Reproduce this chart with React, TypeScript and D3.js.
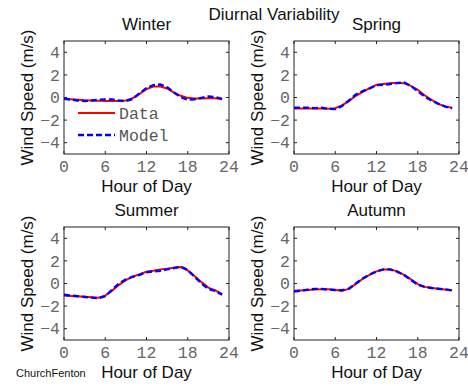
import { useEffect, useRef } from "react"
import * as d3 from "d3"

// hours 0..23
const hours = d3.range(0, 24)

const winterData = [-0.12, -0.16, -0.2, -0.24, -0.27, -0.29, -0.3, -0.3, -0.3, -0.27, -0.06, 0.32, 0.74, 0.97, 0.97, 0.8, 0.44, 0.15, -0.03, -0.09, -0.09, -0.06, -0.06, -0.15]
const winterModel = [-0.12, -0.18, -0.27, -0.32, -0.27, -0.2, -0.18, -0.18, -0.27, -0.32, -0.12, 0.38, 0.83, 1.09, 1.15, 0.91, 0.44, 0.03, -0.2, -0.15, -0.03, 0.09, 0.03, -0.12]

const springData = [-0.97, -0.97, -0.97, -0.97, -0.97, -1.0, -0.94, -0.7, -0.3, 0.15, 0.5, 0.83, 1.12, 1.2, 1.27, 1.3, 1.27, 1.03, 0.68, 0.2, -0.2, -0.56, -0.8, -0.91]
const springModel = [-0.91, -0.91, -0.91, -0.94, -0.91, -1.0, -1.03, -0.74, -0.27, 0.27, 0.56, 0.8, 1.09, 1.12, 1.2, 1.27, 1.33, 1.03, 0.56, 0.09, -0.27, -0.56, -0.8, -0.97]

const summerData = [-1.07, -1.1, -1.13, -1.18, -1.22, -1.25, -1.07, -0.63, -0.12, 0.3, 0.6, 0.83, 1.04, 1.13, 1.25, 1.3, 1.4, 1.46, 1.16, 0.65, 0.12, -0.36, -0.6, -0.95]
const summerModel = [-1.0, -1.07, -1.13, -1.19, -1.25, -1.31, -1.13, -0.54, 0.0, 0.36, 0.6, 0.77, 1.0, 1.07, 1.13, 1.25, 1.37, 1.49, 1.19, 0.6, 0.0, -0.48, -0.65, -1.0]

const autumnData = [-0.65, -0.61, -0.57, -0.53, -0.5, -0.5, -0.57, -0.63, -0.48, -0.03, 0.42, 0.77, 1.07, 1.25, 1.25, 1.07, 0.77, 0.36, -0.06, -0.3, -0.38, -0.48, -0.54, -0.6]
const autumnModel = [-0.71, -0.63, -0.55, -0.48, -0.48, -0.54, -0.57, -0.6, -0.45, 0.0, 0.45, 0.8, 1.07, 1.25, 1.25, 1.05, 0.75, 0.33, -0.1, -0.3, -0.4, -0.46, -0.52, -0.62]

const seasons = ["Winter", "Spring", "Summer", "Autumn"]
const seriesData = [winterData, springData, summerData, autumnData]
const seriesModel = [winterModel, springModel, summerModel, autumnModel]

const xTicks = [0, 6, 12, 18, 24]
const yTicks = [-4, -2, 0, 2, 4]
const legendLabels = ["Data", "Model"]

const W = 468
const H = 386
const sans = "'Liberation Sans', Arial, sans-serif"
const mono = "'Liberation Mono', 'Courier New', monospace"

export default function App() {
  const svgRef = useRef<SVGSVGElement>(null)

  useEffect(() => {
    if (!svgRef.current) return
    const root = d3.select(svgRef.current)
    root.selectAll("*").remove()

    root.append("rect").attr("width", W).attr("height", H).attr("fill", "#fff")

    // panel boxes: left, top
    const panelPos = [
      { x: 64, y: 41 },
      { x: 294, y: 41 },
      { x: 64, y: 227 },
      { x: 294, y: 227 },
    ]
    const pw = 165
    const ph = 113

    panelPos.forEach((p, i) => {
      const g = root.append("g").attr("transform", `translate(${p.x},${p.y})`)
      const x = d3.scaleLinear().domain([0, 24]).range([0, pw])
      const y = d3.scaleLinear().domain([-5, 5]).range([ph, 0])

      // box
      g.append("rect")
        .attr("x", 0).attr("y", 0).attr("width", pw).attr("height", ph)
        .attr("fill", "#fff").attr("stroke", "#222").attr("stroke-width", 1)

      // inward ticks on all four sides
      const tl = 3
      xTicks.forEach(t => {
        g.append("line").attr("x1", x(t)).attr("x2", x(t)).attr("y1", ph).attr("y2", ph - tl).attr("stroke", "#222")
        g.append("line").attr("x1", x(t)).attr("x2", x(t)).attr("y1", 0).attr("y2", tl).attr("stroke", "#222")
        g.append("text")
          .attr("x", x(t)).attr("y", ph + 18)
          .attr("text-anchor", "middle")
          .style("font-family", mono).style("font-size", "16.5px").attr("fill", "#666")
          .text(t)
      })
      yTicks.forEach(t => {
        g.append("line").attr("x1", 0).attr("x2", tl).attr("y1", y(t)).attr("y2", y(t)).attr("stroke", "#222")
        g.append("line").attr("x1", pw).attr("x2", pw - tl).attr("y1", y(t)).attr("y2", y(t)).attr("stroke", "#222")
        g.append("text")
          .attr("x", -4).attr("y", y(t)).attr("dy", "0.35em")
          .attr("text-anchor", "end")
          .style("font-family", mono).style("font-size", "16.5px").attr("fill", "#666")
          .text(t < 0 ? `\u2212${Math.abs(t)}` : `${t}`)
      })

      const line = d3.line<number>()
        .x((_, k) => x(hours[k]))
        .y(d => y(d))

      g.append("path")
        .datum(seriesData[i])
        .attr("fill", "none").attr("stroke", "#ff0000").attr("stroke-width", 2)
        .attr("d", line)
      g.append("path")
        .datum(seriesModel[i])
        .attr("fill", "none").attr("stroke", "#0000ff").attr("stroke-width", 2.4)
        .attr("stroke-dasharray", "6,3")
        .attr("d", line)

      // title
      g.append("text")
        .attr("x", pw / 2).attr("y", -11)
        .attr("text-anchor", "middle")
        .style("font-family", sans).style("font-size", "17px").attr("fill", "#111")
        .text(seasons[i])

      // x label
      g.append("text")
        .attr("x", pw / 2).attr("y", ph + 38)
        .attr("text-anchor", "middle")
        .style("font-family", sans).style("font-size", "17px").attr("fill", "#111")
        .text("Hour of Day")

      // y label
      g.append("text")
        .attr("transform", `translate(-31,${ph / 2}) rotate(-90)`)
        .attr("text-anchor", "middle")
        .style("font-family", sans).style("font-size", "17px").attr("fill", "#111")
        .text("Wind Speed (m/s)")

      // legend in the first panel
      if (i === 0) {
        const styles = [
          { color: "#ff0000", dash: null, width: 2 },
          { color: "#0000ff", dash: "6,3", width: 2.4 },
        ]
        legendLabels.forEach((lab, k) => {
          const ly = 72 + k * 22
          g.append("line")
            .attr("x1", 14).attr("x2", 51).attr("y1", ly).attr("y2", ly)
            .attr("stroke", styles[k].color).attr("stroke-width", styles[k].width)
            .attr("stroke-dasharray", styles[k].dash)
          g.append("text")
            .attr("x", 55).attr("y", ly).attr("dy", "0.35em")
            .style("font-family", mono).style("font-size", "16.5px").attr("fill", "#555")
            .text(lab)
        })
      }
    })

    root.append("text")
      .attr("x", 274).attr("y", 20)
      .attr("text-anchor", "middle")
      .style("font-family", sans).style("font-size", "17px").attr("fill", "#111")
      .text("Diurnal Variability")

    root.append("text")
      .attr("x", 16).attr("y", 377)
      .style("font-family", sans).style("font-size", "11px").attr("fill", "#111")
      .text("ChurchFenton")
  }, [])

  return (
    <svg
      ref={svgRef}
      width={W}
      height={H}
      style={{ position: "absolute", left: 0, top: 0 }}
    />
  )
}
